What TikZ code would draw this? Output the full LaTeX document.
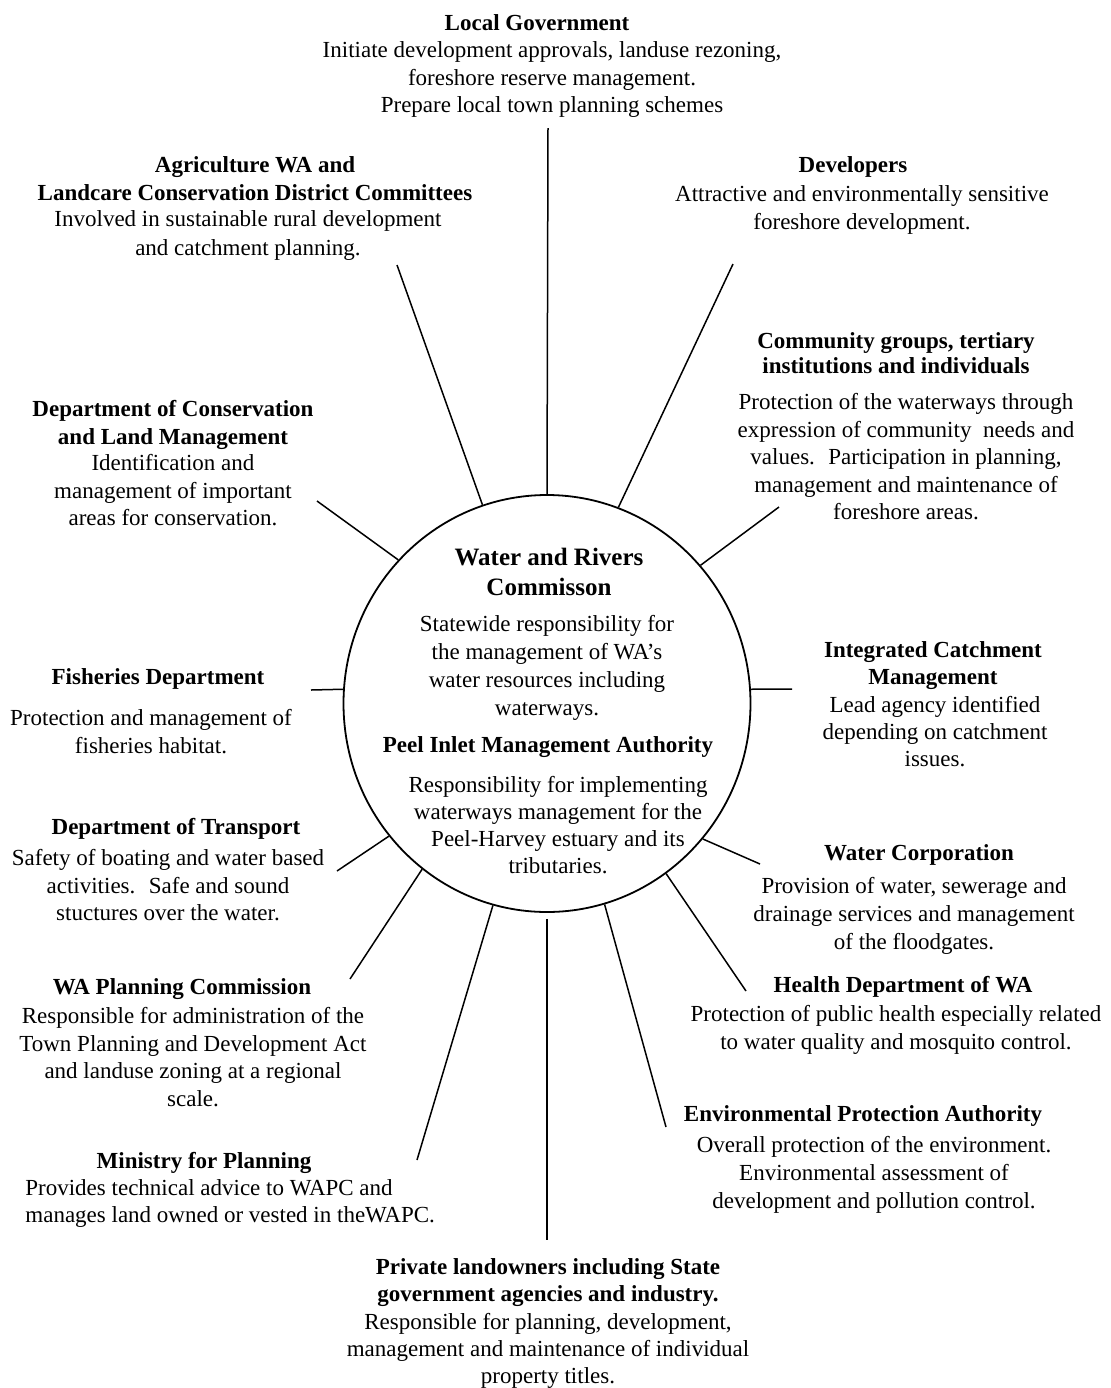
\documentclass[tikz,border=0pt]{standalone}
\usepackage{fontspec}
\setmainfont{Liberation Serif}
\usetikzlibrary{shapes.geometric}
\begin{document}
\begin{tikzpicture}[x=0.5pt,y=-0.5pt,
  spoke/.style={line width=0.75pt},
  txt/.style={inner sep=0pt, anchor=north, align=center, font=\fontsize{11.5}{13.75}\selectfont},
  ttl/.style={txt, font=\fontsize{11.5}{13.75}\selectfont\bfseries},
  sp14/.style={font=\fontsize{11.5}{14}\selectfont},
  sp135/.style={font=\fontsize{11.5}{13.5}\selectfont},
  bsp14/.style={font=\fontsize{11.5}{14}\selectfont\bfseries},
  bsp135/.style={font=\fontsize{11.5}{13.5}\selectfont\bfseries},
]
\fill[white] (0,0) rectangle (1110,1388);
\useasboundingbox (0,0) rectangle (1110,1388);

% central circle
\node[ellipse, draw, line width=0.9pt, inner sep=0pt, minimum width=203.5pt, minimum height=208.5pt] (wrc) at (547,703.5) {};

% outer ends of spokes
\coordinate (lgO) at (548,128);
\coordinate (agO) at (397,265);
\coordinate (dvO) at (733,264);
\coordinate (dcO) at (317,501);
\coordinate (cgO) at (779,507);
\coordinate (fdO) at (311,690);
\coordinate (icO) at (792,689);
\coordinate (dtO) at (337,871);
\coordinate (wcO) at (760,864);
\coordinate (wpO) at (350,979);
\coordinate (hdO) at (746,991);
\coordinate (mpO) at (417,1160);
\coordinate (epO) at (666,1127);
\coordinate (plO) at (547,1240);

\draw[spoke] (wrc.90) -- (lgO);
\draw[spoke] (wrc.108.3) -- (agO);
\draw[spoke] (wrc.70.9) -- (dvO);
\draw[spoke] (wrc.136.5) -- (dcO);
\draw[spoke] (wrc.42.9) -- (cgO);
\draw[spoke] (wrc.176.2) -- (fdO);
\draw[spoke] (wrc.4.1) -- (icO);
\draw[spoke] (wrc.220.8) -- (dtO);
\draw[spoke] (wrc.319.8) -- (wcO);
\draw[spoke] (wrc.233.5) -- (wpO);
\draw[spoke] (wrc.305.5) -- (hdO);
\draw[spoke] (wrc.255.6) -- (mpO);
\draw[spoke] (wrc.286.7) -- (epO);
\draw[spoke, shorten <=3pt] (wrc.270) -- (plO);

% texts
\node[ttl] (lgT) at (537,11) {\strut Local Government};
\node[txt] (lgB) at (552,38) {\strut Initiate development approvals, landuse rezoning,\\foreshore reserve management.\\Prepare local town planning schemes};

\node[ttl, bsp14] (agT) at (255,152) {\strut Agriculture WA and\\Landcare Conservation District Committees};
\node[txt, font=\fontsize{11.5}{14.5}\selectfont] (agB) at (248,206) {\strut Involved in sustainable rural development\\and catchment planning.};

\node[ttl] (dvT) at (853,153) {\strut Developers};
\node[txt, sp14] (dvB) at (862,181) {\strut Attractive and environmentally sensitive\\foreshore development.};

\node[ttl, font=\fontsize{11.5}{12.5}\selectfont\bfseries] (cgT) at (896,331) {\strut Community groups, tertiary\\institutions and individuals};
\node[txt] (cgB) at (906,390) {\strut Protection of the waterways through\\expression of community~ needs and\\values.~ Participation in planning,\\management and maintenance of\\foreshore areas.};

\node[ttl, bsp14] (dcT) at (173,396) {\strut Department of Conservation\\and Land Management};
\node[txt] (dcB) at (173,451) {\strut Identification and\\management of important\\areas for conservation.};

\node[ttl] (fdT) at (158,665) {\strut Fisheries Department};
\node[txt, sp14] (fdB) at (151,705) {\strut Protection and management of\\fisheries habitat.};

\node[ttl, bsp135] (icT) at (933,638) {\strut Integrated Catchment\\Management};
\node[txt, sp135] (icB) at (935,693) {\strut Lead agency identified\\depending on catchment\\issues.};

\node[ttl] (dtT) at (176,815) {\strut Department of Transport};
\node[txt] (dtB) at (168,846) {\strut Safety of boating and water based\\activities.~ Safe and sound\\stuctures over the water.};

\node[ttl] (wcT) at (919,841) {\strut Water Corporation};
\node[txt, sp14] (wcB) at (914,873) {\strut Provision of water, sewerage and\\drainage services and management\\of the floodgates.};

\node[ttl] (wpT) at (182,975) {\strut WA Planning Commission};
\node[txt] (wpB) at (193,1004) {\strut Responsible for administration of the\\Town Planning and Development Act\\and landuse zoning at a regional\\scale.};

\node[ttl] (hdT) at (903,973) {\strut Health Department of WA};
\node[txt, sp14] (hdB) at (896,1001) {\strut Protection of public health especially related\\to water quality and mosquito control.};

\node[ttl] (epT) at (863,1102) {\strut Environmental Protection Authority};
\node[txt, sp14] (epB) at (874,1132) {\strut Overall protection of the environment.\\Environmental assessment of\\development and pollution control.};

\node[ttl] (mpT) at (204,1149) {\strut Ministry for Planning};
\node[txt, sp135, anchor=north west, align=left] (mpB) at (25,1176) {\strut Provides technical advice to WAPC and\\manages land owned or vested in theWAPC.};

\node[ttl, bsp135] (plT) at (548,1255) {\strut Private landowners including State\\government agencies and industry.};
\node[txt, sp135] (plB) at (548,1310) {\strut Responsible for planning, development,\\management and maintenance of individual\\property titles.};

% inside the circle
\node[ttl, font=\fontsize{12.5}{15}\selectfont\bfseries] (wrT) at (549,544.5) {\strut Water and Rivers\\Commisson};
\node[txt, sp14] (wrB) at (547,611) {\strut Statewide responsibility for\\the management of WA's\\water resources including\\waterways.};
\node[ttl] (piT) at (548,733) {\strut Peel Inlet Management Authority};
\node[txt, sp135] (piB) at (558,773) {\strut Responsibility for implementing\\waterways management for the\\Peel-Harvey estuary and its\\tributaries.};
\end{tikzpicture}
\end{document}
